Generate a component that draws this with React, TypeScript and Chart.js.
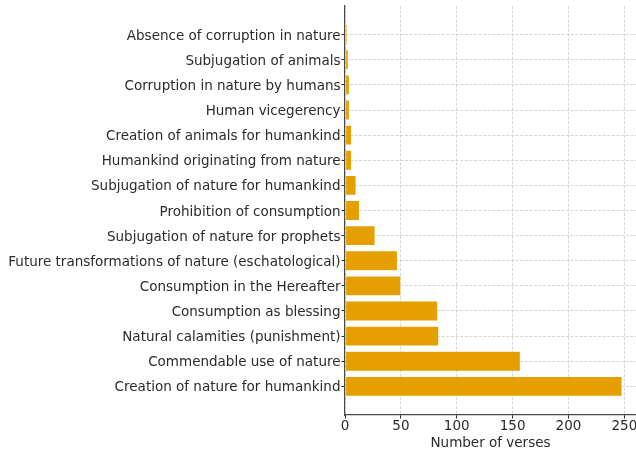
import React, { useEffect, useRef } from "react";
import { Chart, registerables } from "chart.js";

Chart.register(...registerables);

// bottom-to-top order
const categories = [
  "Creation of nature for humankind",
  "Commendable use of nature",
  "Natural calamities (punishment)",
  "Consumption as blessing",
  "Consumption in the Hereafter",
  "Future transformations of nature (eschatological)",
  "Subjugation of nature for prophets",
  "Prohibition of consumption",
  "Subjugation of nature for humankind",
  "Humankind originating from nature",
  "Creation of animals for humankind",
  "Human vicegerency",
  "Corruption in nature by humans",
  "Subjugation of animals",
  "Absence of corruption in nature",
];
const verses = [248, 157, 84, 83, 50, 47, 27, 13, 10, 6, 6, 4, 4, 3, 2];
const xTicksStep = 50;
const xTitle = "Number of verses";

export default function App() {
  const ref = useRef<HTMLCanvasElement | null>(null);
  useEffect(() => {
    document.body.style.margin = "0";
    const n = categories.length;
    const yMin = -0.4 - 0.05 * (n - 1 + 0.8);
    const yMax = n - 1 + 0.4 + 0.05 * (n - 1 + 0.8);
    const xMax = Math.max(...verses) * 1.05;
    const font = { family: "'DejaVu Sans', sans-serif", size: 13.5 };
    const textColor = "#2b2b2b";
    const gridColor = "rgba(200,200,200,0.75)";
    const spine = { display: true, color: "#4a4a4a", width: 1.2, dash: [3, 1.6] };
    const chart = new Chart(ref.current!, {
      type: "bar",
      data: {
        datasets: [
          {
            data: verses.map((v, i) => ({ x: v, y: i })),
            backgroundColor: "#E69F00",
            borderColor: "rgba(255,255,255,0.25)",
            borderWidth: 0.6,
            borderSkipped: false,
            barPercentage: 0.8,
            categoryPercentage: 1,
          },
        ],
      },
      options: {
        indexAxis: "y",
        animation: false,
        responsive: false,
        layout: { padding: { top: 6, right: 0, left: 0, bottom: 0 } },
        plugins: { legend: { display: false }, tooltip: { enabled: false } },
        scales: {
          x: {
            type: "linear",
            min: 0,
            max: xMax,
            z: 1,
            ticks: {
              stepSize: xTicksStep,
              includeBounds: false,
              font,
              color: textColor,
              padding: 0,
              maxRotation: 0,
            },
            grid: {
              color: gridColor,
              lineWidth: 1,
              tickColor: textColor,
              tickLength: 3.5,
              tickBorderDash: [],
              tickWidth: 1,
            },
            border: spine,
            title: {
              display: true,
              text: xTitle,
              font,
              color: textColor,
              padding: { top: 0, bottom: 1 },
            },
            afterFit: (s: any) => {
              s.height = 38;
              s.paddingLeft = 0;
              s.paddingRight = 0;
            },
          },
          y: {
            type: "linear",
            min: yMin,
            max: yMax,
            offset: false,
            z: 1,
            afterBuildTicks: (s: any) => {
              s.ticks = categories.map((_, i) => ({ value: i }));
            },
            ticks: {
              stepSize: 1,
              includeBounds: false,
              autoSkip: false,
              font,
              color: textColor,
              padding: 1,
              labelOffset: 1.5,
              callback: (v: any) => categories[v as number] ?? "",
            },
            grid: {
              offset: false,
              color: gridColor,
              lineWidth: 1,
              tickColor: textColor,
              tickLength: 3.5,
              tickBorderDash: [],
              tickWidth: 1,
            },
            border: spine,
            afterFit: (s: any) => {
              s.width = 345;
              s.paddingTop = 0;
              s.paddingBottom = 0;
            },
          },
        },
      },
    });
    return () => chart.destroy();
  }, []);
  return <canvas ref={ref} width={636} height={453} style={{ display: "block" }} />;
}
